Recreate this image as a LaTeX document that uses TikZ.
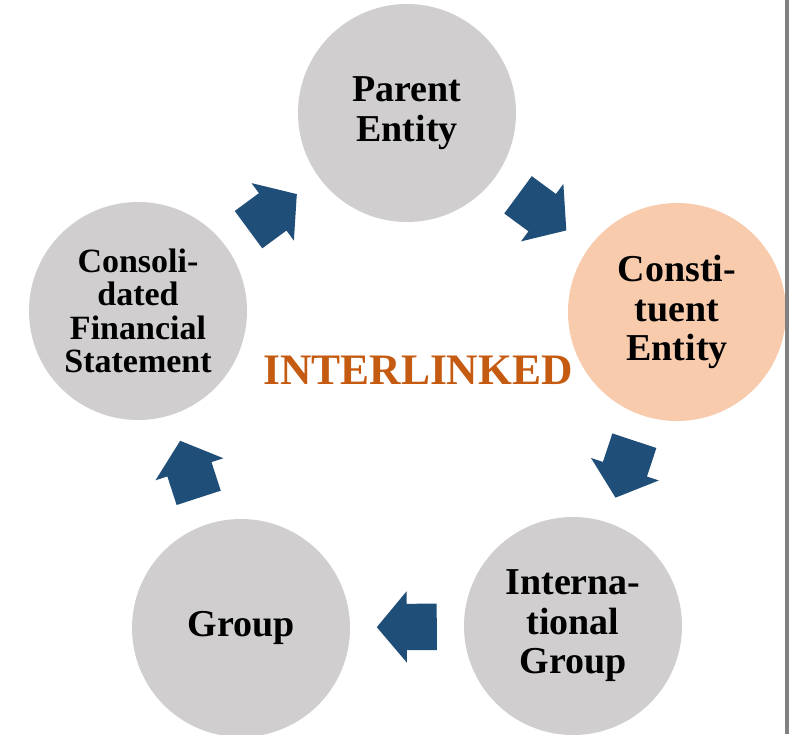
\documentclass[tikz,border=0pt]{standalone}
\usepackage{fontspec}
\setmainfont{Liberation Serif}
\usetikzlibrary{shapes.arrows,calc}
\definecolor{circgray}{HTML}{D0CECE}
\definecolor{peach}{HTML}{F8CBAD}
\definecolor{arrblue}{HTML}{1F4E79}
\definecolor{orangetxt}{HTML}{C55A11}
\definecolor{rulegray}{HTML}{808080}
\newcommand\linkarrow[2]{%
  \path let \p1=(#1), \p2=(#2), \n1={atan2(\y2-\y1,\x2-\x1)} in
    node[blockarr, rotate=\n1, anchor=tail] (#1-#2) at ($(#1)!0.5!(#2)!30pt!(#1)$) {};}
\begin{document}
\begin{tikzpicture}[x=1pt,y=-1pt,
  ent/.style={circle, fill=circgray, minimum size=218pt, inner sep=0pt, align=center,
    font=\fontsize{38}{39.5}\selectfont\bfseries},
  blockarr/.style={single arrow, fill=arrblue, draw=none, minimum height=60pt,
    single arrow head extend=12.5pt, single arrow tip angle=100, inner xsep=0pt, inner ysep=23pt}]
\clip (0,0) rectangle (798,734);
\fill[white] (0,0) rectangle (798,734);
\node[ent] (pe) at (407,113) {Parent\\Entity};
\node[ent, fill=peach] (ce) at (677,312) {Consti-\\tuent\\Entity};
\node[ent] (ig) at (573,626) {Interna-\\tional\\Group};
\node[ent] (gr) at (241,628) {Group};
\node[ent, font=\fontsize{34}{33.5}\selectfont\bfseries] (cf) at (138,311) {Consoli-\\dated\\Financial\\Statement};
\node[font=\fontsize{43.5}{48}\selectfont\bfseries, text=orangetxt] (il) at (418,370) {INTERLINKED};
\linkarrow{pe}{ce}
\linkarrow{ce}{ig}
\linkarrow{ig}{gr}
\linkarrow{gr}{cf}
\linkarrow{cf}{pe}
\fill[rulegray] (785,0) rectangle (789,734);
\end{tikzpicture}
\end{document}
